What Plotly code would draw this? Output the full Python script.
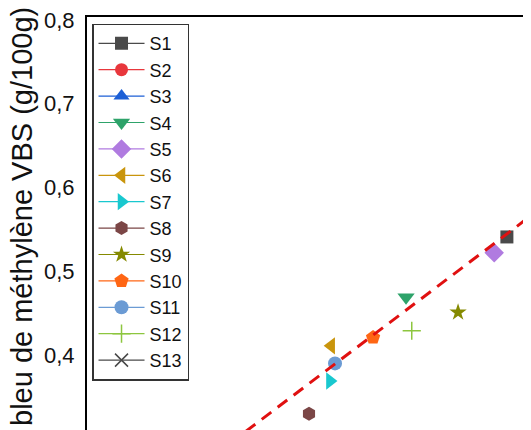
import plotly.graph_objects as go

# ---- data ----
series_names = ["S1", "S2", "S3", "S4", "S5", "S6", "S7", "S8", "S9", "S10", "S11", "S12", "S13"]
x_values = [0.662, 0.250, 0.220, 0.503, 0.642, 0.385, 0.383, 0.350, 0.585, 0.451, 0.391, 0.512, 0.280]
vbs_values = [0.541, 0.270, 0.250, 0.469, 0.522, 0.411, 0.369, 0.330, 0.451, 0.421, 0.390, 0.429, 0.285]
fit_x = [0.20, 0.75]
fit_y = [0.280, 0.595]
y_tick_vals = [0.4, 0.5, 0.6, 0.7, 0.8]
y_tick_text = ["0,4", "0,5", "0,6", "0,7", "0,8"]
y_title = "Valeur de bleu de méthylène VBS (g/100g)"

# ---- styles ----
colors = ["#4a4a4a", "#e8373c", "#1c5fd6", "#2ea36a", "#b07be0", "#c9950c", "#19c8cf",
          "#7b4646", "#858a00", "#ff6614", "#6b9bd4", "#8dc63f", "#4a4a4a"]
symbols = ["square", "circle", "triangle-up", "triangle-down", "diamond", "triangle-left",
           "triangle-right", "hexagon", "star", "pentagon", "circle", "cross-thin", "x-thin"]
sizes = [13, 13, 14, 15, 15, 15, 15, 14, 13, 15, 14, 13, 13]

FONT = "Arial, Liberation Sans, sans-serif"

fig = go.Figure()
for name, xv, yv, c, s, sz in zip(series_names, x_values, vbs_values, colors, symbols, sizes):
    thin = s.endswith("-thin")
    fig.add_trace(go.Scatter(
        x=[xv], y=[yv], name=name, mode="lines+markers",
        line=dict(color=c, width=1.2),
        marker=dict(symbol=s, size=sz, color=c,
                    line=dict(color=c, width=1.5 if thin else 0)),
    ))

fig.add_trace(go.Scatter(
    x=fit_x, y=fit_y, mode="lines", showlegend=False,
    line=dict(color="#e01010", width=3, dash="12px,8px"),
))

fig.add_annotation(
    text=y_title, textangle=-90, xref="paper", yref="paper",
    x=-0.1475, y=1.029, xanchor="center", yanchor="top", showarrow=False,
    font=dict(family=FONT, size=29, color="#111111"),
)

# page body has an 8px margin: the figure is sized so it ends at the window edge
fig.update_layout(
    width=523, height=422,
    margin=dict(l=79, r=0, t=9, b=0, pad=0, autoexpand=False),
    paper_bgcolor="white", plot_bgcolor="white",
    font=dict(family=FONT, color="#111111"),
    showlegend=True,
    legend=dict(
        x=0.0113, y=0.984, xanchor="left", yanchor="top",
        bgcolor="white", bordercolor="#333333", borderwidth=1.5,
        font=dict(family=FONT, size=18, color="#111111"),
        itemwidth=46, tracegroupgap=0,
    ),
    xaxis=dict(
        range=[0.0, 0.7], side="top", showline=True, linecolor="black", linewidth=2,
        showgrid=False, zeroline=False, showticklabels=False, ticks="",
        automargin=False,
    ),
    yaxis=dict(
        range=[0.3105, 0.8036], showline=True, linecolor="black", linewidth=2,
        showgrid=False, zeroline=False, ticks="",
        tickvals=y_tick_vals, ticktext=y_tick_text,
        tickfont=dict(family=FONT, size=22, color="#111111"),
        ticklabelstandoff=6, ticklabeloverflow="allow", automargin=False,
    ),
)

fig.write_html("out.html")
